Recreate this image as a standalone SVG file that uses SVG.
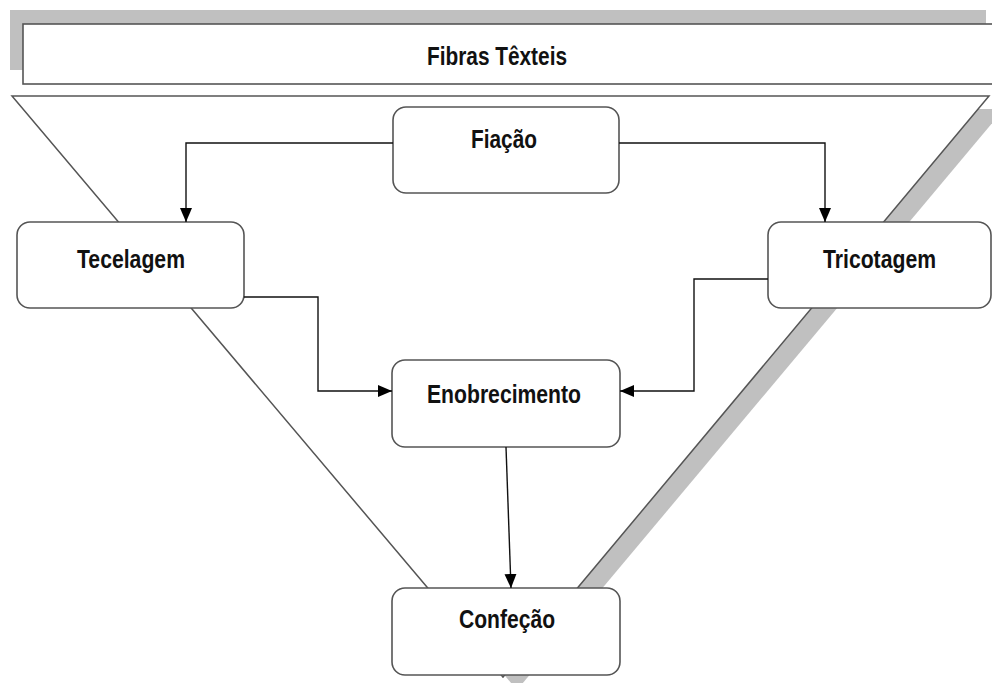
<svg xmlns="http://www.w3.org/2000/svg" width="992" height="683" viewBox="0 0 992 683">
<style>
.shadow{fill:#c0c0c0;stroke:none}
.box{fill:#fff;stroke:#555;stroke-width:1.6}
.lbl{font-family:"Liberation Sans",Arial,sans-serif;font-weight:bold;font-size:25px;fill:#111}
.conn{fill:none;stroke:#111;stroke-width:1.4}
</style>
<defs>
<marker id="arr" markerUnits="userSpaceOnUse" markerWidth="15" markerHeight="15" viewBox="0 0 15 15" refX="14" refY="7.5" orient="auto">
<path d="M0,1.5 L14,7.5 L0,13.5 Z" fill="#000"/>
</marker>
</defs>
<g id="background">
<rect class="shadow" x="10" y="10" width="976" height="60"/>
<polygon class="shadow" points="27,109 1004,109 517,690"/>
<polygon points="12,96 989,96 503,677" fill="#fff" stroke="#555" stroke-width="1.5"/>
</g>
<g id="fibras">
<rect class="box" x="23" y="24" width="980" height="60"/>
<text class="lbl" x="427" y="65" textLength="140" lengthAdjust="spacingAndGlyphs">Fibras Têxteis</text>
</g>
<g id="fiacao">
<rect class="box" x="393" y="107" width="226" height="86" rx="13"/>
<text class="lbl" x="471" y="148" textLength="66" lengthAdjust="spacingAndGlyphs">Fiação</text>
</g>
<g id="tecelagem">
<rect class="box" x="17" y="222" width="227" height="86" rx="13"/>
<text class="lbl" x="77" y="268" textLength="108" lengthAdjust="spacingAndGlyphs">Tecelagem</text>
</g>
<g id="tricotagem">
<rect class="box" x="768" y="222" width="223" height="86" rx="13"/>
<text class="lbl" x="823" y="268" textLength="113" lengthAdjust="spacingAndGlyphs">Tricotagem</text>
</g>
<g id="enobrecimento">
<rect class="box" x="392" y="360" width="228" height="87" rx="13"/>
<text class="lbl" x="427" y="403" textLength="154" lengthAdjust="spacingAndGlyphs">Enobrecimento</text>
</g>
<g id="confecao">
<rect class="box" x="392" y="588" width="228" height="87" rx="13"/>
<text class="lbl" x="459" y="628" textLength="96" lengthAdjust="spacingAndGlyphs">Confeção</text>
</g>
<g id="connectors">
<polyline class="conn" points="393,143 186,143 186,222" marker-end="url(#arr)"/>
<polyline class="conn" points="619,143 825,143 825,222" marker-end="url(#arr)"/>
<polyline class="conn" points="244,297 318,297 318,391 392,391" marker-end="url(#arr)"/>
<polyline class="conn" points="768,279 694,279 694,391 620,391" marker-end="url(#arr)"/>
<line class="conn" x1="506" y1="447" x2="511" y2="588" marker-end="url(#arr)"/>
</g>
</svg>
